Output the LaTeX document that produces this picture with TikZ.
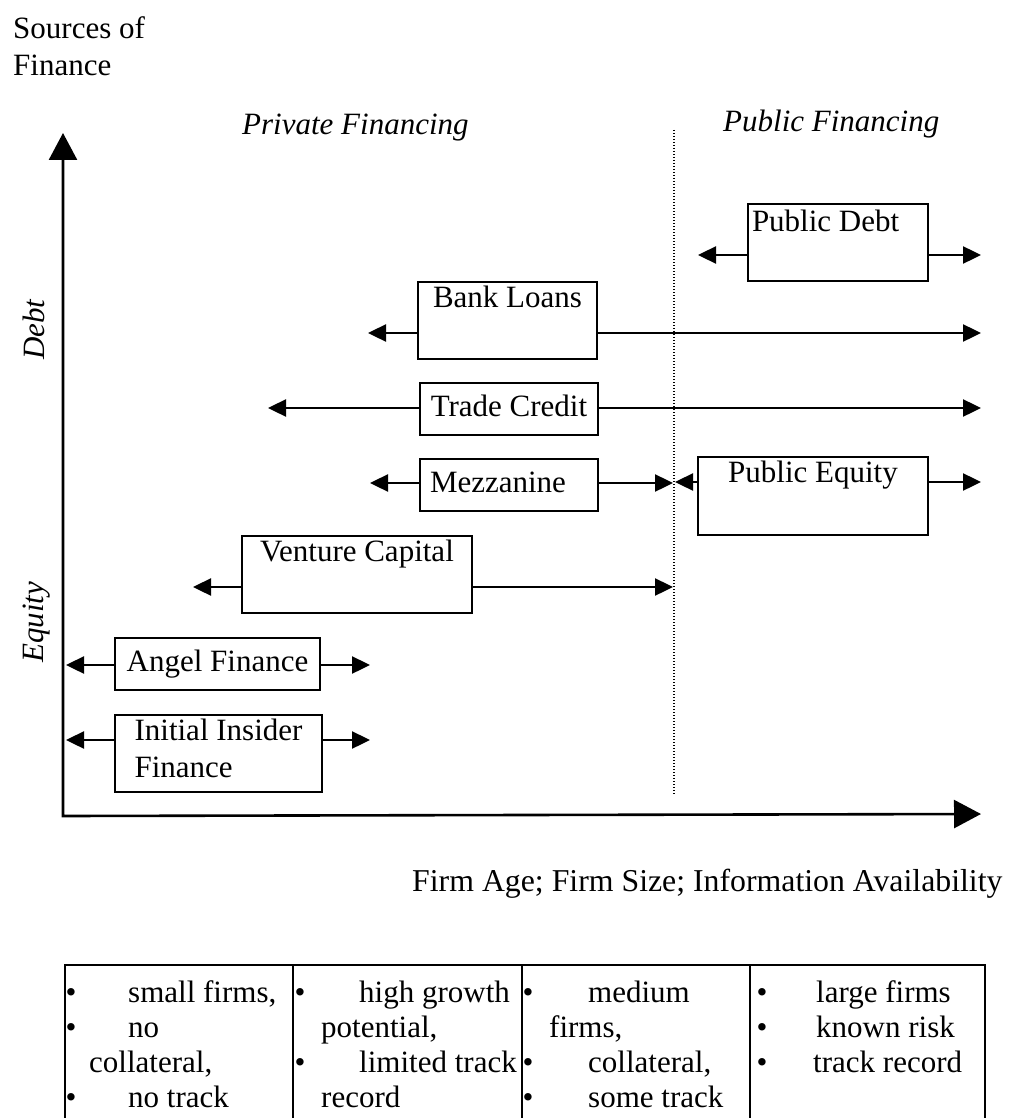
\documentclass[tikz,border=0pt]{standalone}
\usepackage{fontspec}
\setmainfont{Liberation Serif}
\usetikzlibrary{arrows.meta}

\begin{document}
\begin{tikzpicture}[x=1pt,y=-1pt,>={Triangle[length=18pt,width=17pt]},
	fin/.style={draw,line width=2.6pt,align=left,inner xsep=4pt,inner ysep=1.5pt,font=\fontsize{31}{37}\selectfont,execute at begin node=\strut,execute at end node=\strut},
	txt/.style={font=\fontsize{31}{37}\selectfont,inner sep=0pt},
	slant/.style={font=\fontsize{31}{37}\selectfont\itshape,inner sep=0pt},
	link/.style={->,line width=2.4pt},
	axis/.style={{Triangle[length=27pt,width=28pt]}-{Triangle[length=27pt,width=28pt]},line width=2.6pt,line join=miter}]
	\useasboundingbox (0,0) rectangle (1011,1118);

	\coordinate (ytip) at (63,133);
	\coordinate (O) at (63,816);
	\coordinate (xtip) at (981,814);
	\draw[axis] (ytip) -- (O) -- (xtip);
	\draw[line width=1.4pt,dash pattern=on 1.4pt off 1.6pt] (674,130) -- (674,795);

	\node[txt,align=left,anchor=north west] (src) at (13,16) {Sources of\\Finance};
	\node[slant,anchor=base west] (priv) at (242,135) {Private Financing};
	\node[slant,anchor=base west] (publ) at (723,132) {Public Financing};
	\node[slant,rotate=90,anchor=base west] (debt) at (44,360) {Debt};
	\node[slant,rotate=90,anchor=base west] (equity) at (43,663) {Equity};
	\node[txt,font=\fontsize{31.8}{37}\selectfont,anchor=base west] (xlab) at (412,891) {Firm Age; Firm Size; Information Availability};

	\node[fin,align=flush left,text width=172pt,minimum height=77pt] (pubdebt) at (838,242.5) {Public Debt\\\mbox{}};
	\node[fin,minimum width=179pt,minimum height=77pt] (bank) at (507.5,320.5) {Bank Loans\\\mbox{}};
	\node[fin,minimum width=178pt,minimum height=52pt] (trade) at (509,409) {Trade Credit};
	\node[fin,align=flush left,inner xsep=10pt,text width=158pt,minimum height=52pt] (mezz) at (509,485) {Mezzanine};
	\node[fin,minimum width=230pt,minimum height=78pt] (pubeq) at (813,496) {Public Equity\\\mbox{}};
	\node[fin,minimum width=230pt,minimum height=77pt] (vc) at (357,574.5) {Venture Capital\\\mbox{}};
	\node[fin,minimum width=205pt,minimum height=52pt] (angel) at (217.5,664) {Angel Finance};
	\node[fin,minimum width=207pt,minimum height=77pt] (insider) at (218.5,753.5) {Initial Insider\\Finance};

	% arrow ends
	\coordinate (pubdebtL) at (698,255);  \coordinate (pubdebtR) at (981,255);
	\coordinate (bankL) at (368,333);     \coordinate (bankR) at (981,333);
	\coordinate (tradeL) at (268,408);    \coordinate (tradeR) at (981,408);
	\coordinate (mezzL) at (370,483);     \coordinate (mezzR) at (673,483);
	\coordinate (pubeqL) at (675,482);    \coordinate (pubeqR) at (981,482);
	\coordinate (vcL) at (193,587);       \coordinate (vcR) at (673,587);
	\coordinate (angelL) at (66,665);     \coordinate (angelR) at (370,665);
	\coordinate (insiderL) at (66,740);   \coordinate (insiderR) at (370,740);

	\foreach \n in {pubdebt,bank,trade,mezz,pubeq,vc,angel,insider}{
		\draw[link] (\n.west |- \n L) -- (\n L);
		\draw[link] (\n.east |- \n R) -- (\n R);
	}

	% table
	\draw[line width=2pt] (65,1125) -- (65,965) -- (985,965) -- (985,1125);
	\foreach \x in {293,522,750} \draw[line width=2pt] (\x,965) -- (\x,1125);
	\foreach \x/\r [count=\i] in {71/0,71/1,71/3,300/0,300/2,528/0,528/2,528/3,762/0,762/1,762/2}
		\node[txt,anchor=base] (b\i) at (\x,1002+35*\r) {\textbullet};
	\foreach \x/\r/\t [count=\i] in {128/0/{small firms,},128/1/no,89/2/{collateral,},128/3/no track,
		359/0/high growth,321/1/{potential,},359/2/limited track,321/3/record,
		588/0/medium,549/1/{firms,},588/2/{collateral,},588/3/some track,
		816/0/large firms,816/1/known risk,813/2/track record}
		\node[txt,anchor=base west] (c\i) at (\x,1002+35*\r) {\t};
\end{tikzpicture}
\end{document}
